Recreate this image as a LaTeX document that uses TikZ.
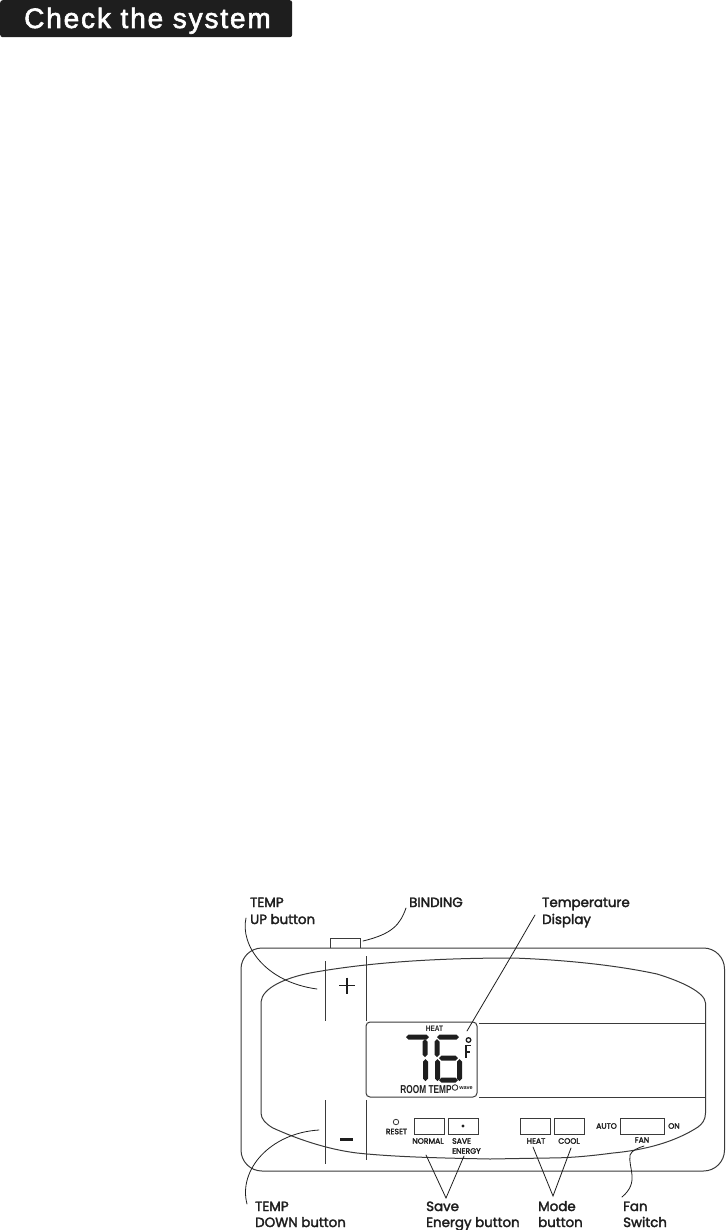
\documentclass[tikz,border=0pt]{standalone}
\usepackage{fontspec}
\usepackage{graphicx}
\setmainfont{Poppins}
\newfontfamily\labfont[FakeBold=2.4]{Poppins}
\newfontfamily\tinyfont[FakeBold=2.4]{Poppins}
\newfontfamily\titlefont[LetterSpace=6.6,FakeBold=2.2]{Liberation Sans}
\newfontfamily\smallfont{Liberation Sans}
\definecolor{ink}{HTML}{1E1E1E}
\definecolor{rule}{HTML}{3A3A3A}
\newcommand{\hseg}[3]{\fill[ink] (#1,#3) -- (#1+2.5,#3-2.5) -- (#2-2.5,#3-2.5) -- (#2,#3) -- (#2-2.5,#3+2.5) -- (#1+2.5,#3+2.5) -- cycle;}
\newcommand{\vseg}[3]{\fill[ink] (#1,#2) -- (#1+2.5,#2+2.5) -- (#1+2.5,#3-2.5) -- (#1,#3) -- (#1-2.5,#3-2.5) -- (#1-2.5,#2+2.5) -- cycle;}
\tikzset{
  panel/.style={draw=rule,line width=1pt},
  leader/.style={draw=ink,line width=0.8pt,line cap=round},
  btn/.style={draw=rule,line width=0.9pt,fill=white,inner sep=0pt,minimum height=16pt},
  lab/.style={font=\labfont\fontsize{13.4}{13.4}\selectfont,text=ink,anchor=base west,inner sep=0pt},
  tiny/.style={font=\tinyfont\fontsize{7.7}{7.7}\selectfont,text=ink,inner sep=0pt},
}
\begin{document}
\begin{tikzpicture}[x=1pt,y=-1pt]
\useasboundingbox (0,0) rectangle (725,1230);
% title bar
\node[fill=ink,rounded corners=2.5pt,minimum width=292pt,minimum height=37pt,inner sep=0pt,anchor=north west] (titlebar) at (0,0) {};
\node[text=white,font=\titlefont\fontsize{28}{28}\selectfont,inner sep=0pt,anchor=base] (titletext) at (147.5,28) {Check the system};
% binding tab and outer body
\draw[panel] (330.5,948) -- (330.5,938) -- (360,938) -- (360,948);
\draw[panel,rounded corners=21pt] (241,948) rectangle (724.5,1171);
% inner outline
\draw[panel] (261,1113) -- (261,1002)
  .. controls (262,988) and (285,978) .. (310,973)
  .. controls (370,962) and (440,958) .. (513,958)
  .. controls (570,960) and (620,966) .. (657,974)
  .. controls (680,981) and (705,992) .. (705.5,1003)
  -- (705.5,1113)
  .. controls (705.5,1120) and (702,1124) .. (698,1127)
  .. controls (675,1142) and (645,1150) .. (613,1153)
  .. controls (590,1156) and (570,1158) .. (547,1158)
  -- (490,1159)
  .. controls (440,1158) and (395,1157) .. (357,1153)
  .. controls (325,1149) and (295,1138) .. (273,1128)
  .. controls (266,1124) and (261,1119) .. (261,1113);
% key dividers
\draw[panel] (325,961) -- (325,1021);
\draw[panel] (366,956) -- (366,1021);
\draw[panel] (325,1100) -- (325,1164);
\draw[panel] (366,1100) -- (366,1160);
% plus / minus
\draw[ink,line width=1.9pt] (339,985.5) -- (355,985.5) (347,977.5) -- (347,993.5);
\draw[ink,line width=3pt] (340,1139) -- (353,1139);
% display
\draw[panel,rounded corners=4pt] (366,1022) rectangle (477,1097);
\draw[panel] (479,1023) -- (705.5,1023);
\draw[panel] (479,1097) -- (705.5,1097);
\node[font=\smallfont\bfseries\fontsize{8}{8}\selectfont,text=ink,inner sep=0pt] (heatlcd) at (434.5,1028.5) {\scalebox{.82}[1]{HEAT}};
% digit 7
\hseg{406}{429}{1037}
\vseg{425}{1039}{1057}
\vseg{425.5}{1059}{1081}
% digit 6
\hseg{437}{459}{1037}
\vseg{437}{1039}{1057}
\hseg{439}{458}{1058}
\vseg{437.5}{1059}{1081}
\vseg{459.5}{1059}{1081}
\hseg{439}{458}{1080}
% degree F
\draw[ink,line width=1.3pt] (468.5,1040) circle[radius=2.3];
\draw[ink,line width=1.6pt] (471,1045.5) -- (466,1045.5) -- (466,1058) (466,1052) -- (470,1052);
% room temp
\node[font=\smallfont\bfseries\fontsize{11.5}{11.5}\selectfont,text=ink,inner sep=0pt] (roomtemp) at (426,1090) {\scalebox{.72}[1]{ROOM TEMP}};
\draw[ink,line width=.8pt] (455,1087.5) circle[radius=2.8];
\node[font=\smallfont\bfseries\fontsize{5.5}{5.5}\selectfont,text=ink,inner sep=0pt] (wave) at (466,1088) {wave};
% buttons
\node[circle,draw=rule,line width=.8pt,minimum size=5.5pt,inner sep=0pt] (reset) at (396,1122) {};
\node[tiny] (resetlab) at (396.5,1131.5) {RESET};
\node[btn,minimum width=29.5pt,anchor=north west] (normal) at (414,1118) {};
\node[btn,minimum width=30pt,anchor=north west] (saveb) at (448,1118) {};
\fill[ink] (463,1126) circle[radius=1.6];
\node[btn,minimum width=30pt,anchor=north west] (heatb) at (520,1118) {};
\node[btn,minimum width=30pt,anchor=north west] (coolb) at (554,1118) {};
\node[btn,minimum width=44pt,anchor=north west] (fanb) at (620,1118) {};
\node[tiny] (normallab) at (428,1141) {NORMAL};
\node[tiny,anchor=west] (savelab) at (452,1141) {SAVE};
\node[tiny,anchor=west] (energylab) at (452,1151) {ENERGY};
\node[tiny] (heatlab) at (536,1141) {HEAT};
\node[tiny] (coollab) at (569,1141) {COOL};
\node[tiny] (autolab) at (606.5,1126) {AUTO};
\node[tiny] (onlab) at (674,1126) {ON};
\node[tiny] (fanlab) at (642,1140) {FAN};
% labels
\node[lab] (tempup) at (250,907) {TEMP};
\node[lab] (upbtn) at (250,924) {UP button};
\node[lab] (binding) at (409,907) {BINDING};
\node[lab] (temperature) at (542,907) {Temperature};
\node[lab] (displaylab) at (542,924) {Display};
\node[lab] (tempdown) at (255,1211) {TEMP};
\node[lab] (downbtn) at (255,1227) {DOWN button};
\node[lab] (savetxt) at (426,1211) {Save};
\node[lab] (energybtn) at (426,1227) {Energy button};
\node[lab] (modetxt) at (538,1211) {Mode};
\node[lab] (modebtn) at (538,1227) {button};
\node[lab] (fantxt) at (623,1211) {Fan};
\node[lab] (switchtxt) at (623,1227) {Switch};
% leader ends
\coordinate (upS) at (246,918);
\coordinate (upE) at (317,989);
\coordinate (bindS) at (406,908);
\coordinate (bindE) at (363,941);
\coordinate (dispS) at (535,915);
\coordinate (dispE) at (467,1031);
\coordinate (downS) at (247,1204);
\coordinate (downE) at (319,1130);
\coordinate (saveT) at (446,1198);
\coordinate (saveL) at (426,1155);
\coordinate (saveR) at (464,1156);
\coordinate (modeT) at (553,1196);
\coordinate (modeL) at (533,1147);
\coordinate (modeR) at (571,1148);
\coordinate (fanS) at (622,1197);
\coordinate (fanE) at (644,1146);
% leaders
\draw[leader] (upS) .. controls (240,945) and (265,982) .. (upE);
\draw[leader] (bindS) .. controls (400,925) and (392,934) .. (bindE);
\draw[leader] (dispS) .. controls (525,932) and (515,950) .. (493,987) -- (dispE);
\draw[leader] (downS) .. controls (238,1170) and (270,1133) .. (downE);
\draw[leader] (saveL) -- (saveT) -- (saveR);
\draw[leader] (modeL) -- (modeT) -- (modeR);
\draw[leader] (fanS) .. controls (640,1182) and (628,1168) .. (630,1155) .. controls (632,1150) and (638,1148) .. (fanE);
\end{tikzpicture}
\end{document}
